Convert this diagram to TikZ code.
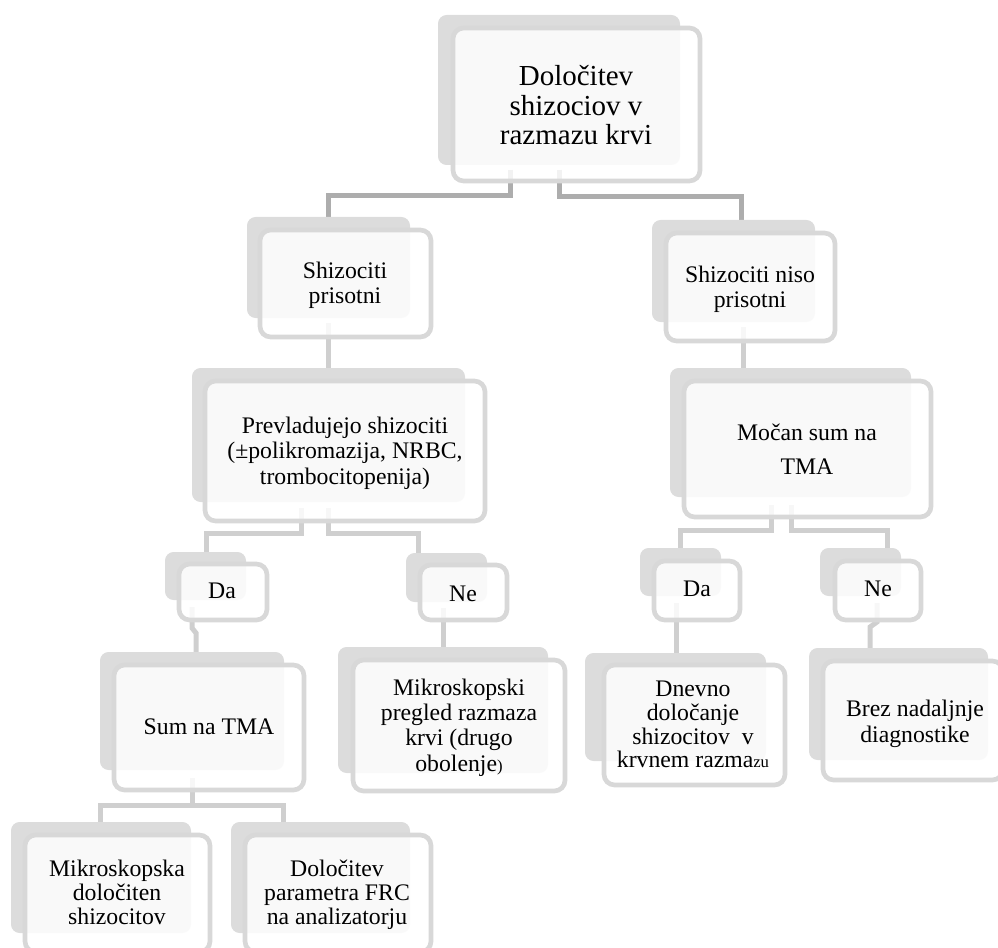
\documentclass[tikz,border=0pt]{standalone}
\usepackage{fontspec}
\setmainfont{Liberation Serif}
\usetikzlibrary{fit}
\definecolor{shad}{HTML}{DCDCDC}
\definecolor{bord}{HTML}{D8D8D8}
\definecolor{lineA}{HTML}{ADADAD}
\definecolor{lineB}{HTML}{CFCFCF}
\newcommand\tf[2]{\fontsize{#1}{#2}\selectfont}
\newcommand\smallpart[1]{{\fontsize{12.5}{12.5}\selectfont #1}}
\begin{document}
\begin{tikzpicture}[x=0.75pt,y=-0.75pt,
  shadowbox/.style={fill=shad, rounded corners=6.5pt, inner sep=0pt, draw=none},
  frontbox/.style={fill=white, fill opacity=0.85, draw=bord, draw opacity=1, line width=3.5pt, rounded corners=8pt, inner sep=0pt},
  lbl/.style={align=center, inner sep=0pt, text=black, font=\tf{17.8}{18.9}},
  conA/.style={draw=lineA, line width=3.75pt},
  conB/.style={draw=lineB, line width=3.75pt}]
\useasboundingbox (0,0) rectangle (998,948);
\clip (0,0) rectangle (998,948);

% connector end points
\coordinate (r-a) at (510,170);   \coordinate (sp-top) at (328,217);
\coordinate (r-b) at (559,170);   \coordinate (snp-top) at (741,220);
\coordinate (sp-a) at (328,323);  \coordinate (prev-top) at (328,368);
\coordinate (snp-a) at (743,327); \coordinate (mocan-top) at (743,368);
\coordinate (prev-a) at (301,508); \coordinate (da1-top) at (206,552);
\coordinate (prev-b) at (328,508); \coordinate (ne1-top) at (418,553);
\coordinate (da1-a) at (192,607); \coordinate (sum-top) at (196,652);
\coordinate (ne1-a) at (443,608); \coordinate (mikro-top) at (443,647);
\coordinate (mocan-a) at (771,505); \coordinate (da2-top) at (680,548);
\coordinate (mocan-b) at (791,505); \coordinate (ne2-top) at (887,548);
\coordinate (da2-a) at (676,603); \coordinate (dnevno-top) at (676,653);
\coordinate (ne2-a) at (877,603); \coordinate (brez-top) at (870,648);
\coordinate (sum-a) at (192,778); \coordinate (mik2-top) at (100,822);
\coordinate (frc-top) at (283,822);

% connectors
\draw[conA] (r-a) -- ++(0,26) -| (sp-top);
\draw[conA] (r-b) -- ++(0,27) -| (snp-top);
\draw[conB] (sp-a) -- (prev-top);
\draw[conB] (snp-a) -- (mocan-top);
\draw[conB] (prev-a) -- ++(0,25) -| (da1-top);
\draw[conB] (prev-b) -- ++(0,25) -| (ne1-top);
\draw[conB] (da1-a) -- ++(0,21) -- ++(4,5) -- (sum-top);
\draw[conB] (ne1-a) -- (mikro-top);
\draw[conB] (mocan-a) -- ++(0,25) -| (da2-top);
\draw[conB] (mocan-b) -- ++(0,25) -| (ne2-top);
\draw[conB] (da2-a) -- (dnevno-top);
\draw[conB] (ne2-a) -- ++(0,19) -- ++(-7,5) -- (brez-top);
\draw[conB] (sum-a) -- ++(0,27) -| (mik2-top);
\draw[conB] (sum-a) -- ++(0,27) -| (frc-top);

% shadows
\node[shadowbox, fit={(438,15)(680,165)}] (root-s) {};
\node[shadowbox, fit={(247,217)(410,318)}] (sp-s) {};
\node[shadowbox, fit={(652,220)(815,322)}] (snp-s) {};
\node[shadowbox, fit={(192,368)(465,502)}] (prev-s) {};
\node[shadowbox, fit={(670,368)(911,497)}] (mocan-s) {};
\node[shadowbox, fit={(165,552)(246,600)}] (da1-s) {};
\node[shadowbox, fit={(406,553)(487,602)}] (ne1-s) {};
\node[shadowbox, fit={(640,548)(721,596)}] (da2-s) {};
\node[shadowbox, fit={(820,548)(901,596)}] (ne2-s) {};
\node[shadowbox, fit={(100,652)(284,770)}] (sum-s) {};
\node[shadowbox, fit={(338,647)(548,773)}] (mikro-s) {};
\node[shadowbox, fit={(585,653)(766,761)}] (dnevno-s) {};
\node[shadowbox, fit={(809,648)(988,760)}] (brez-s) {};
\node[shadowbox, fit={(11,822)(191,933)}] (mik2-s) {};
\node[shadowbox, fit={(231,822)(410,933)}] (frc-s) {};

% front boxes
\node[frontbox, fit={(453,28)(700,181)}] (root-f) {};
\node[frontbox, fit={(260,230)(431,337)}] (sp-f) {};
\node[frontbox, fit={(666,233)(835,341)}] (snp-f) {};
\node[frontbox, fit={(205,381)(485,521)}] (prev-f) {};
\node[frontbox, fit={(684,381)(931,517)}] (mocan-f) {};
\node[frontbox, fit={(179,564)(267,620)}] (da1-f) {};
\node[frontbox, fit={(420,565)(507,620)}] (ne1-f) {};
\node[frontbox, fit={(654,561)(740,620)}] (da2-f) {};
\node[frontbox, fit={(835,561)(921,620)}] (ne2-f) {};
\node[frontbox, fit={(114,665)(304,790)}] (sum-f) {};
\node[frontbox, fit={(353,660)(565,791)}] (mikro-f) {};
\node[frontbox, fit={(604,665)(785,785)}] (dnevno-f) {};
\node[frontbox, fit={(823,661)(1003,780)}] (brez-f) {};
\node[frontbox, fit={(25,835)(210,952)}] (mik2-f) {};
\node[frontbox, fit={(245,835)(431,952)}] (frc-f) {};

% texts
\node[lbl, font=\tf{21.75}{22.1}] (root) at (576,105.5) {Določitev\\shizociov v\\razmazu krvi};
\node[lbl, font=\tf{17.8}{18.75}] (sp) at (345,285) {Shizociti\\prisotni};
\node[lbl, font=\tf{17.8}{18.75}] (snp) at (750,289) {Shizociti niso\\prisotni};
\node[lbl, font=\tf{17.8}{19.1}] (prev) at (345,453) {Prevladujejo shizociti\\(±polikromazija, NRBC,\\trombocitopenija)};
\node[lbl, font=\tf{17.8}{25.5}] (mocan) at (807,449) {Močan sum na\\TMA};
\node[lbl] (da1) at (222,591) {Da};
\node[lbl] (ne1) at (463,594) {Ne};
\node[lbl] (da2) at (697,589) {Da};
\node[lbl] (ne2) at (878,589) {Ne};
\node[lbl] (sum) at (209,727) {Sum na TMA};
\node[lbl, font=\tf{17.8}{19}] (mikro) at (459,727.5) {Mikroskopski\\pregled razmaza\\krvi (drugo\\obolenje\smallpart{)}};
\node[lbl, font=\tf{17.8}{17.8}] (dnevno) at (693,724.5) {Dnevno\\določanje\\shizocitov~~v\\krvnem razma\smallpart{zu}};
\node[lbl, font=\tf{17.8}{19.5}] (brez) at (915,723.5) {Brez nadaljnje\\diagnostike};
\node[lbl, font=\tf{17.8}{18}] (mik2) at (117,892) {Mikroskopska\\določiten\\shizocitov};
\node[lbl, font=\tf{17.8}{18}] (frc) at (337,894.5) {Določitev\\parametra FRC\\na analizatorju};
\end{tikzpicture}
\end{document}
